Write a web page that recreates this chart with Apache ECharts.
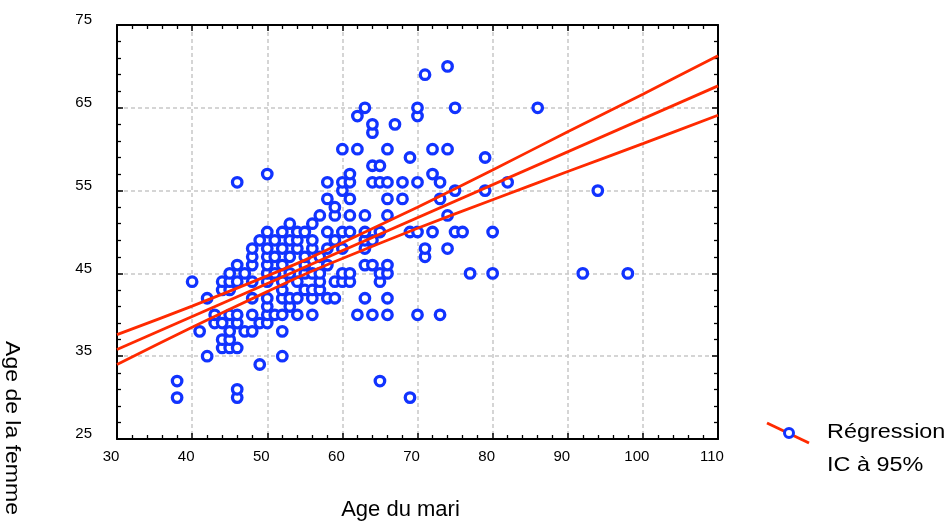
<!DOCTYPE html>
<html>
<head>
<meta charset="utf-8">
<script src="https://cdn.jsdelivr.net/npm/echarts@6/dist/echarts.min.js"></script>
<style>
html,body{margin:0;padding:0;background:#fff;}
#c{width:947px;height:526px;}
</style>
</head>
<body>
<div id="c"></div>
<script>
// Age du mari (x) and Age de la femme (y), one entry per couple
const husbandAge = [
  38,46,69,
  46,
  38,65,
  49,
  42,52,
  44,45,46,
  44,45,
  41,45,47,48,52,
  43,44,46,49,50,
  43,45,46,48,50,51,52,54,56,62,64,66,70,73,
  50,53,
  42,48,50,52,53,54,56,58,59,63,66,
  44,45,52,55,56,57,
  40,44,45,46,48,50,52,54,57,59,60,61,65,
  45,47,50,51,53,55,56,57,60,61,65,66,77,80,92,98,
  46,48,50,52,55,58,63,64,66,
  48,50,51,53,55,57,71,
  48,50,52,54,56,58,60,63,71,74,
  49,51,53,54,56,59,63,64,
  50,52,54,55,58,60,61,63,65,69,70,72,75,76,80,
  53,56,
  57,59,61,63,66,74,
  59,
  58,61,66,68,73,
  60,75,79,94,
  46,58,60,61,64,65,66,68,70,73,82,
  50,61,72,
  64,65,
  69,79,
  60,62,66,72,74,
  64,
  64,67,
  62,70,
  63,70,75,86,
  71,
  74
];
const wifeAge = [
  30,30,30,
  31,
  32,32,
  34,
  35,35,
  36,36,36,
  37,37,
  38,38,38,38,38,
  39,39,39,39,39,
  40,40,40,40,40,40,40,40,40,40,40,40,40,40,
  41,41,
  42,42,42,42,42,42,42,42,42,42,42,
  43,43,43,43,43,43,
  44,44,44,44,44,44,44,44,44,44,44,44,44,
  45,45,45,45,45,45,45,45,45,45,45,45,45,45,45,45,
  46,46,46,46,46,46,46,46,46,
  47,47,47,47,47,47,47,
  48,48,48,48,48,48,48,48,48,48,
  49,49,49,49,49,49,49,49,
  50,50,50,50,50,50,50,50,50,50,50,50,50,50,50,
  51,51,
  52,52,52,52,52,52,
  53,
  54,54,54,54,54,
  55,55,55,55,
  56,56,56,56,56,56,56,56,56,56,56,
  57,57,57,
  58,58,
  59,59,
  60,60,60,60,60,
  62,
  63,63,
  64,64,
  65,65,65,65,
  69,
  70
];
// Regression line and 95% confidence band
const regX = [30, 110];
const regY = [35.8, 67.65];
const ciX = [30, 40, 50, 55, 60, 70, 80, 90, 100, 110];
const ciUpper = [37.6, 41.05, 44.7, 46.6, 48.7, 53.0, 57.5, 62.1, 66.65, 71.3];
const ciLower = [34.0, 38.5, 42.8, 44.9, 46.8, 50.45, 53.9, 57.3, 60.67, 64.1];
// Axis settings
const xTicks = {min: 30, max: 110, interval: 10};
const yTicks = {min: 25, max: 75, interval: 10};
const labels = {xTitle: 'Age du mari', yTitle: 'Age de la femme', reg: 'Régression', ci: 'IC à 95%'};

const BLUE = '#1133ff';
const RED = '#ff2a00';
const FONT = '"Liberation Sans", Arial, sans-serif';

const scatterData = husbandAge.map((x, i) => [x, wifeAge[i]]);
const regData = regX.map((x, i) => [x, regY[i]]);
const upData = ciX.map((x, i) => [x, ciUpper[i]]);
const loData = ciX.map((x, i) => [x, ciLower[i]]);

const frameLine = {show: true, onZero: false, lineStyle: {color: '#000', width: 2}};
const tick = {show: true, inside: true, length: 6, lineStyle: {color: '#000', width: 1.5}};
const minor = {show: true, splitNumber: 5, length: 4, lineStyle: {color: '#000', width: 1.3}};
const grid = {show: true, lineStyle: {color: '#c8c8c8', width: 1.5, type: [4, 3]}};

const chart = echarts.init(document.getElementById('c'), null, {renderer: 'canvas'});
chart.setOption({
  animation: false,
  backgroundColor: '#fff',
  grid: {left: 117, right: 229, top: 25, bottom: 82, containLabel: false},
  xAxis: [
    {
      type: 'value', position: 'bottom', min: xTicks.min, max: xTicks.max, interval: xTicks.interval,
      axisLine: frameLine, axisTick: tick, minorTick: minor, splitLine: grid,
      axisLabel: {color: '#000', fontFamily: FONT, fontSize: 15, margin: 10, padding: [0, 12, 0, 0]},
      name: labels.xTitle, nameLocation: 'middle', nameGap: 60,
      nameTextStyle: {color: '#000', fontFamily: FONT, fontSize: 22, padding: [0, 34, 0, 0]}
    },
    {
      type: 'value', position: 'top', min: xTicks.min, max: xTicks.max, interval: xTicks.interval,
      axisLine: frameLine, axisTick: tick, minorTick: minor, splitLine: {show: false},
      axisLabel: {show: false}
    }
  ],
  yAxis: [
    {
      type: 'value', position: 'left', min: yTicks.min, max: yTicks.max, interval: yTicks.interval,
      axisLine: frameLine, axisTick: tick, minorTick: minor, splitLine: grid,
      axisLabel: {color: '#000', fontFamily: FONT, fontSize: 15, margin: 25, verticalAlign: 'bottom', lineHeight: 10}
    },
    {
      type: 'value', position: 'right', min: yTicks.min, max: yTicks.max, interval: yTicks.interval,
      axisLine: frameLine, axisTick: tick, minorTick: minor, splitLine: {show: false},
      axisLabel: {show: false}
    }
  ],
  series: [
    {
      type: 'scatter', name: labels.reg, data: scatterData, z: 2,
      symbol: 'circle', symbolSize: 9.5,
      itemStyle: {color: '#fff', borderColor: BLUE, borderWidth: 3.3, opacity: 1}
    },
    {
      type: 'line', data: regData, showSymbol: false, z: 3,
      lineStyle: {color: RED, width: 2.8}
    },
    {
      type: 'line', data: upData, showSymbol: false, smooth: 0.3, z: 3,
      lineStyle: {color: RED, width: 2.8}
    },
    {
      type: 'line', data: loData, showSymbol: false, smooth: 0.3, z: 3,
      lineStyle: {color: RED, width: 2.8}
    }
  ],
  graphic: [
    {
      type: 'text', x: 12, y: 428, rotation: -Math.PI / 2, scaleX: 1.15,
      style: {text: labels.yTitle, font: '20px ' + FONT, fill: '#000', align: 'center', verticalAlign: 'middle'}
    },
    {
      type: 'line', shape: {x1: 767, y1: 423, x2: 809, y2: 443},
      style: {stroke: RED, lineWidth: 3}
    },
    {
      type: 'circle', shape: {cx: 789, cy: 433, r: 4.5},
      style: {fill: '#fff', stroke: BLUE, lineWidth: 3}
    },
    {
      type: 'text', x: 827, y: 432, scaleX: 1.17,
      style: {text: labels.reg, font: '20px ' + FONT, fill: '#000', align: 'left', verticalAlign: 'middle'}
    },
    {
      type: 'text', x: 827, y: 465, scaleX: 1.17,
      style: {text: labels.ci, font: '20px ' + FONT, fill: '#000', align: 'left', verticalAlign: 'middle'}
    }
  ]
});
</script>
</body>
</html>
